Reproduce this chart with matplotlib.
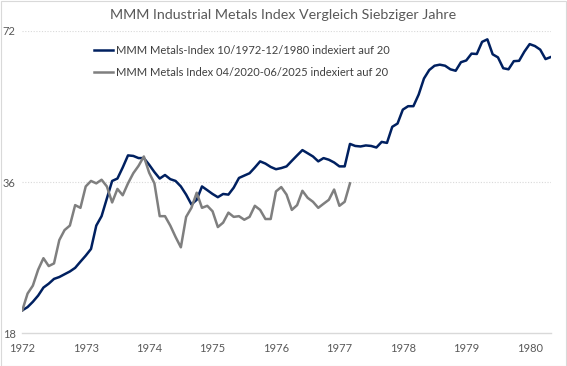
import matplotlib
matplotlib.use("Agg")
import matplotlib.pyplot as plt
from matplotlib.ticker import FixedLocator, NullLocator, FixedFormatter

plt.rcParams['font.family'] = ['Lato', 'DejaVu Sans']

title = "MMM Industrial Metals Index Vergleich Siebziger Jahre"
label_70s = "MMM Metals-Index 10/1972-12/1980 indexiert auf 20"
label_20s = "MMM Metals Index 04/2020-06/2025 indexiert auf 20"

year_labels = ["1972", "1973", "1974", "1975", "1976", "1977", "1978", "1979", "1980"]
y_ticks = [18, 36, 72]

# monthly values, indexed to 20
metals_70s = [
    20.0, 20.3, 20.8, 21.4, 22.2, 22.6, 23.1, 23.3, 23.6, 23.9,
    24.3, 25.0, 25.7, 26.5, 29.5, 30.8, 33.4, 36.2, 36.6, 38.5,
    40.7, 40.6, 40.2, 40.2, 39.0, 37.7, 36.6, 37.2, 36.5, 36.2,
    35.3, 34.0, 32.5, 33.2, 35.3, 34.7, 34.1, 33.6, 34.1, 34.0,
    35.1, 36.7, 37.1, 37.5, 38.5, 39.6, 39.2, 38.6, 38.2, 38.4,
    38.7, 39.7, 40.7, 41.7, 41.1, 40.5, 39.6, 40.2, 39.9, 39.4,
    38.7, 38.7, 42.9, 42.5, 42.4, 42.6, 42.5, 42.2, 43.3, 43.1,
    46.4, 47.1, 50.2, 51.0, 51.0, 53.8, 57.9, 60.2, 61.4, 61.7,
    61.4, 60.4, 60.0, 62.4, 62.9, 64.9, 64.8, 68.5, 69.3, 64.7,
    63.8, 60.7, 60.4, 62.7, 62.8, 65.5, 67.8, 67.2, 66.1, 63.3,
    63.9,
]

metals_20s = [
    20.0, 21.6, 22.4, 24.1, 25.4, 24.5, 24.8, 27.6, 28.9, 29.5,
    32.4, 32.0, 35.3, 36.2, 35.8, 36.4, 35.3, 32.8, 34.9, 33.9,
    35.8, 37.5, 38.8, 40.5, 37.6, 35.8, 30.8, 30.8, 29.5, 28.0,
    26.7, 30.7, 32.0, 34.3, 32.0, 32.3, 31.5, 29.3, 29.9, 31.3,
    30.7, 30.8, 30.3, 30.7, 32.3, 31.7, 30.4, 30.4, 34.5, 35.2,
    34.0, 31.7, 32.4, 34.6, 33.5, 32.9, 32.0, 32.6, 33.2, 34.8,
    32.3, 32.9, 35.8,
]

W, H = 567, 366
fig = plt.figure(figsize=(W / 100, H / 100), dpi=100)
fig.patch.set_facecolor("white")

# chart border
fig.patches.append(plt.Rectangle((0.5 / W, 0.5 / H), 1 - 1.5 / W, 1 - 1.5 / H,
                                 transform=fig.transFigure, fill=False,
                                 edgecolor="#d9d9d9", linewidth=0.8))

left, right = 22.3 / W, 550.8 / W
bottom, top = 1 - 333.3 / H, 1 - 31 / H
ax = fig.add_axes([left, bottom, right - left, top - bottom])

x70 = list(range(len(metals_70s)))
x20 = list(range(len(metals_20s)))

ax.plot(x70, metals_70s, color="#002060", linewidth=1.8, label=label_70s,
        solid_joinstyle="round", zorder=3)
ax.plot(x20, metals_20s, color="#7f7f7f", linewidth=1.8, label=label_20s,
        solid_joinstyle="round", zorder=3)

ax.set_yscale("log", base=2)
ax.set_ylim(18, 72)
ax.set_xlim(0, len(metals_70s) - 1)

ax.yaxis.set_major_locator(FixedLocator(y_ticks))
ax.yaxis.set_minor_locator(NullLocator())
ax.yaxis.set_major_formatter(FixedFormatter([str(v) for v in y_ticks]))

ax.xaxis.set_major_locator(FixedLocator([12 * i for i in range(len(year_labels))]))
ax.xaxis.set_major_formatter(FixedFormatter(year_labels))

for s in ["top", "right", "left"]:
    ax.spines[s].set_visible(False)
ax.spines["bottom"].set_color("#d9d9d9")
ax.spines["bottom"].set_linewidth(1.0)

ax.tick_params(axis="both", length=0, colors="#595959", labelsize=8)
ax.tick_params(axis="x", pad=7)
for lbl in ax.get_yticklabels():
    lbl.set_horizontalalignment("left")
ax.tick_params(axis="y", pad=14)

for v in y_ticks[1:]:
    ax.axhline(v, color="#d9d9d9", linewidth=0.8, linestyle=(0, (1, 1.5)), zorder=1)

fig.text(0.5, 1 - 15 / H, title, ha="center", va="center", fontsize=10.3, color="#595959")

leg = ax.legend(loc="upper left", bbox_to_anchor=(94 / W, 1 - 45 / H),
                bbox_transform=fig.transFigure, frameon=False, fontsize=8.0,
                handlelength=1.7, handletextpad=0.3, labelspacing=0.95,
                borderaxespad=0, borderpad=0)
for t in leg.get_texts():
    t.set_color("#404040")

fig.savefig("out.png", dpi=100, facecolor="white")
